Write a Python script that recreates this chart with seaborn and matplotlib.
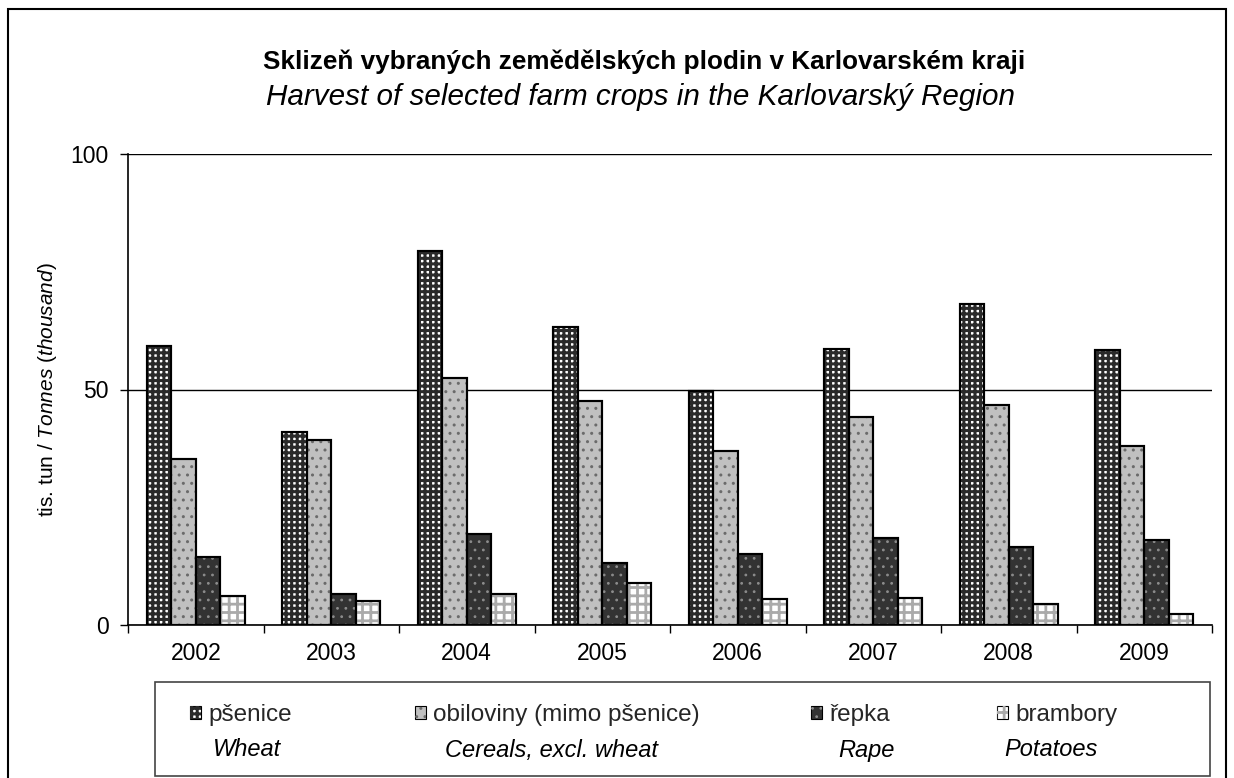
import numpy as np
import pandas as pd
import matplotlib
matplotlib.use("Agg")
import matplotlib.pyplot as plt
import matplotlib.patches as mpatches
from matplotlib.legend_handler import HandlerTuple
import seaborn as sns

# ---- data ----
years = ["2002", "2003", "2004", "2005", "2006", "2007", "2008", "2009"]
wheat = [59.2, 41.0, 79.5, 63.3, 49.6, 58.7, 68.2, 58.3]
cereals = [35.2, 39.2, 52.5, 47.5, 36.9, 44.2, 46.7, 37.9]
rape = [14.4, 6.5, 19.4, 13.1, 15.0, 18.4, 16.5, 18.1]
potatoes = [6.2, 5.0, 6.6, 9.0, 5.5, 5.7, 4.5, 2.3]
series_cz = ["pšenice", "obiloviny (mimo pšenice)", "řepka", "brambory"]
series_en = ["Wheat", "Cereals, excl. wheat", "Rape", "Potatoes"]
yticks = [0, 50, 100]
title_cz = "Sklizeň vybraných zemědělských plodin v Karlovarském kraji"
title_en = "Harvest of selected farm crops in the Karlovarský Region"

sns.set_theme(style="white")
plt.rcParams["font.family"] = ["Liberation Sans", "DejaVu Sans"]
plt.rcParams["mathtext.fontset"] = "custom"
plt.rcParams["mathtext.rm"] = "Liberation Sans"
plt.rcParams["mathtext.it"] = "Liberation Sans:italic"

df = pd.DataFrame({
    "year": years * 4,
    "crop": np.repeat(series_cz, len(years)),
    "value": wheat + cereals + rape + potatoes,
})

W, H = 1234, 778
fig = plt.figure(figsize=(W / 100, H / 100), dpi=100)
ax = fig.add_axes([128 / W, 1 - 625 / H, (1212 - 128) / W, (625 - 154) / H])

face = ["#ffffff", "#c0c0c0", "#333333", "#ffffff"]
hatch_specs = [("+++", "#2a2a2a", 2.2), ("..", "#6a6a6a", 1.0),
               ("..", "#8c8c8c", 0.8), ("++", "#aaaaaa", 2.0)]

sns.barplot(data=df, x="year", y="value", hue="crop", hue_order=series_cz,
            palette=face, width=0.72, edgecolor="black", linewidth=1.5,
            saturation=1, legend=False, ax=ax, zorder=2)

for i, cont in enumerate(ax.containers):
    h, hc, hlw = hatch_specs[i]
    for bar in cont:
        with plt.rc_context({"hatch.linewidth": hlw}):
            ov = mpatches.Rectangle(bar.get_xy(), bar.get_width(), bar.get_height(),
                                    fill=False, hatch=h, edgecolor=hc, lw=0, zorder=2.5)
        ax.add_patch(ov)
        ax.add_patch(mpatches.Rectangle(bar.get_xy(), bar.get_width(), bar.get_height(),
                                        fill=False, edgecolor="black", lw=1.5, zorder=3))

ax.set_xlim(-0.5, len(years) - 0.5)
ax.set_ylim(0, 100)
ax.set_yticks(yticks)
ax.yaxis.grid(True, color="black", lw=1)
ax.set_axisbelow(True)
for s in ["top", "right"]:
    ax.spines[s].set_visible(False)
for s in ["left", "bottom"]:
    ax.spines[s].set_color("black")
    ax.spines[s].set_linewidth(1.2)
ax.set_xticks(np.arange(-0.5, len(years), 1), minor=True)
ax.tick_params(axis="x", which="major", length=0, pad=12, labelsize=16.5, colors="black")
ax.tick_params(axis="x", which="minor", bottom=True, length=6, width=1, color="black")
ax.tick_params(axis="y", left=True, length=6, width=1, color="black", pad=8,
               labelsize=16.5, labelcolor="black")
ax.set_xlabel("")
ax.set_ylabel(r"tis. tun / $\it{Tonnes\ (thousand)}$", fontsize=15, color="black")
ax.yaxis.set_label_coords((59 - 128) / 1084, 0.5)

fig.text(644 / W, 1 - 62 / H, title_cz, ha="center", va="center",
         fontsize=18.8, fontweight="bold", color="black")
fig.text(640 / W, 1 - 97 / H, title_en, ha="center", va="center",
         fontsize=21.3, style="italic", color="black")

# outer border
fig.add_artist(mpatches.Rectangle((8 / W, -0.05), (1226 - 8) / W, (1 - 9 / H) + 0.05,
                                  transform=fig.transFigure, fill=False,
                                  edgecolor="black", lw=1.5))
# legend frame
fig.add_artist(mpatches.Rectangle((155 / W, 1 - 776 / H), (1210 - 155) / W, (776 - 682) / H,
                                  transform=fig.transFigure, fill=False,
                                  edgecolor="#444444", lw=1.2))

marker_x = [190, 415, 811, 997]
en_x = [213, 445, 838, 1004]
for i in range(4):
    h, hc, hlw = hatch_specs[i]
    with plt.rc_context({"hatch.linewidth": hlw}):
        base = mpatches.Patch(facecolor=face[i], edgecolor="black", lw=0.8)
        hat = mpatches.Patch(fill=False, hatch=h, edgecolor=hc, lw=0)
        fig.legend(handles=[(base, hat)], labels=[series_cz[i]], loc="center left",
                   bbox_to_anchor=(marker_x[i] / W, 1 - 715 / H), frameon=False,
                   fontsize=17.5, handlelength=0.45, handleheight=0.45,
                   handletextpad=0.3, borderpad=0, borderaxespad=0,
                   handler_map={tuple: HandlerTuple(ndivide=1, pad=0)})
    fig.text(en_x[i] / W, 1 - 750 / H, series_en[i], ha="left", va="center",
             fontsize=17, style="italic", color="black")

fig.savefig("out.png", dpi=100)
